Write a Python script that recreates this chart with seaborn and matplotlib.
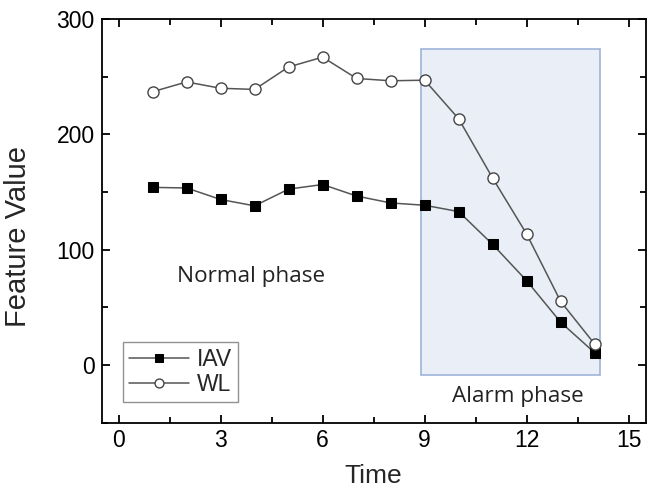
import numpy as np
import pandas as pd
import seaborn as sns
import matplotlib.pyplot as plt
from matplotlib.patches import Rectangle
from matplotlib.ticker import MultipleLocator

# Valores
time = [1, 2, 3, 4, 5, 6, 7, 8, 9, 10, 11, 12, 13, 14]
iav = [154, 153.5, 143.5, 138, 152.5, 156.5, 146.5, 140.5, 138.5, 133, 104.5, 73, 37, 10.5]
wl = [237, 245.5, 240, 239, 258.5, 267, 248.5, 246.5, 247, 213.5, 162, 113.5, 55, 18]

# Zona de alarma (tiempo inicio/fin, valor inferior/superior)
alarm_x = [8.88, 14.16]
alarm_y = [-8.7, 274]

sns.set_style("ticks")
plt.rcParams['font.family'] = ['Liberation Sans', 'DejaVu Sans']
plt.rcParams['xtick.direction'] = 'in'
plt.rcParams['ytick.direction'] = 'in'

fig = plt.figure(figsize=(6.47, 5.03), dpi=100)
ax = fig.add_axes([0.157, 0.160, 0.841, 0.802])

ax.add_patch(Rectangle((alarm_x[0], alarm_y[0]), alarm_x[1] - alarm_x[0], alarm_y[1] - alarm_y[0],
                       facecolor='#e9eef7', edgecolor='#9db4d8', linewidth=1.2, zorder=0))

sns.lineplot(x=time, y=iav, ax=ax, color='#555555', linewidth=1.1, marker='s',
             markersize=7.5, markerfacecolor='black', markeredgecolor='black', label='IAV')
sns.lineplot(x=time, y=wl, ax=ax, color='#555555', linewidth=1.1, marker='o',
             markersize=8, markerfacecolor='white', markeredgecolor='#444444',
             markeredgewidth=1.0, label='WL')

ax.set_xlim(-0.5, 15.5)
ax.set_ylim(-50, 300)
ax.xaxis.set_major_locator(MultipleLocator(3))
ax.xaxis.set_minor_locator(MultipleLocator(1.5))
ax.yaxis.set_major_locator(MultipleLocator(100))
ax.yaxis.set_minor_locator(MultipleLocator(50))
ax.tick_params(which='both', top=True, right=True, direction='in', width=1.3, colors='black')
ax.tick_params(which='major', length=6, labelsize=16.5, pad=5)
ax.tick_params(which='minor', length=4)
for s in ax.spines.values():
    s.set_linewidth(1.3)
    s.set_color('black')

ax.set_xlabel('Time', fontsize=19, labelpad=8)
ax.set_ylabel('Feature Value', fontsize=21, labelpad=4)
ax.yaxis.set_label_coords(-0.128, 0.46)

ax.text(1.72, 72.2, 'Normal phase', fontsize=16.2, family=['Open Sans', 'DejaVu Sans'],
        color='#222222', va='baseline', ha='left')
ax.text(9.8, -31.8, 'Alarm phase', fontsize=16.2, family=['Open Sans', 'DejaVu Sans'],
        color='#222222', va='baseline', ha='left')

leg = ax.legend(loc='lower left', bbox_to_anchor=(0.04, 0.052), borderaxespad=0,
                fontsize=16.5, frameon=True, fancybox=False, edgecolor='#777777',
                handlelength=2.6, handletextpad=0.35, labelspacing=0.1, borderpad=0.25,
                markerscale=0.8)
leg.get_frame().set_linewidth(1.0)

fig.savefig('out.png', dpi=100)
